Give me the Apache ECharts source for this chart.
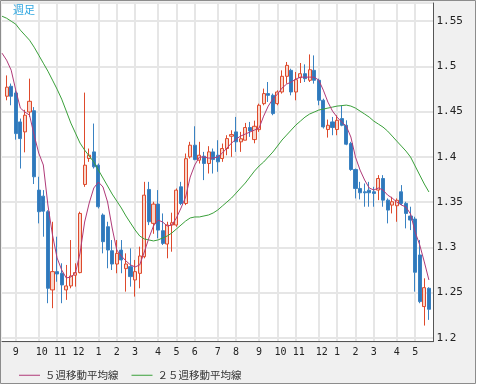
<!DOCTYPE html>
<html><head><meta charset="utf-8">
<script src="https://cdn.jsdelivr.net/npm/echarts@6/dist/echarts.min.js"></script>
<style>html,body{margin:0;padding:0;background:#fff}#c{width:478px;height:386px}</style>
</head><body><div id="c"></div>
<script>
// Weekly candles (Monday dates)
const weeks = [
'2008-08-11','2008-08-18','2008-08-25','2008-09-01','2008-09-08','2008-09-15','2008-09-22','2008-09-29','2008-10-06','2008-10-13','2008-10-20','2008-10-27','2008-11-03','2008-11-10','2008-11-17','2008-11-24','2008-12-01','2008-12-08','2008-12-15','2008-12-22','2008-12-29',
'2009-01-05','2009-01-12','2009-01-19','2009-01-26','2009-02-02','2009-02-09','2009-02-16','2009-02-23','2009-03-02','2009-03-09','2009-03-16','2009-03-23','2009-03-30','2009-04-06','2009-04-13','2009-04-20','2009-04-27','2009-05-04','2009-05-11','2009-05-18','2009-05-25','2009-06-01','2009-06-08','2009-06-15','2009-06-22','2009-06-29','2009-07-06','2009-07-13','2009-07-20','2009-07-27','2009-08-03','2009-08-10','2009-08-17','2009-08-24','2009-08-31','2009-09-07','2009-09-14','2009-09-21','2009-09-28','2009-10-05','2009-10-12','2009-10-19','2009-10-26','2009-11-02','2009-11-09','2009-11-16','2009-11-23','2009-11-30','2009-12-07','2009-12-14','2009-12-21','2009-12-28',
'2010-01-04','2010-01-11','2010-01-18','2010-01-25','2010-02-01','2010-02-08','2010-02-15','2010-02-22','2010-03-01','2010-03-08','2010-03-15','2010-03-22','2010-03-29','2010-04-05','2010-04-12','2010-04-19','2010-04-26','2010-05-03','2010-05-10','2010-05-17','2010-05-24','2010-05-31'];

const opens = [null,1.467,1.478,1.4706,1.4386,1.4276,1.4496,1.451,1.3633,1.3566,1.3394,1.253,1.2732,1.2714,1.253,1.2574,1.2692,1.2721,1.3695,1.3982,1.4055,
1.3908,1.3357,1.3228,1.2963,1.2816,1.297,1.2765,1.2787,1.264,1.2713,1.2897,1.364,1.3265,1.3478,1.3184,1.3037,1.3247,1.3247,1.3669,1.3485,1.40,1.4129,1.3963,1.4007,1.3927,1.4055,1.4018,1.3982,1.4092,1.4228,1.4276,1.4166,1.4184,1.4324,1.4191,1.4301,1.4588,1.4699,1.468,1.4588,1.4717,1.489,1.4956,1.4717,1.4875,1.4919,1.4846,1.4956,1.4846,1.4625,1.4302,1.4386,
1.4302,1.4423,1.4349,1.4147,1.386,1.3651,1.3614,1.3632,1.3614,1.3633,1.3761,1.3522,1.3467,1.346,1.3614,1.3486,1.3346,1.3313,1.2916,1.2346,1.2548,null];
const closes = [null,1.477,1.467,1.4257,1.4202,1.446,1.4614,1.378,1.3394,1.340,1.2548,1.2732,1.2706,1.2585,1.2574,1.2684,1.2721,1.3375,1.3908,1.4019,1.389,
1.3449,1.3063,1.2971,1.2816,1.2934,1.2861,1.2816,1.2677,1.2732,1.2905,1.3577,1.3283,1.3478,1.3191,1.3044,1.3247,1.3272,1.3632,1.3485,1.398,1.4129,1.397,1.4018,1.3927,1.4055,1.397,1.3945,1.4092,1.4202,1.4246,1.4166,1.42,1.4324,1.4287,1.4338,1.457,1.4699,1.468,1.4478,1.4717,1.489,1.5011,1.4717,1.4853,1.4919,1.4864,1.4963,1.4846,1.4625,1.4331,1.4349,1.4324,
1.4404,1.4349,1.414,1.386,1.3651,1.3603,1.3603,1.3603,1.3596,1.3761,1.3522,1.3412,1.3504,1.352,1.3486,1.3375,1.3302,1.2725,1.2401,1.2555,1.2316,null];
const lows = [null,1.4625,1.457,1.419,1.3871,1.405,1.4441,1.370,1.3265,1.3118,1.2383,1.2328,1.262,1.2383,1.242,1.2548,1.2566,1.2714,1.3669,1.3945,1.3871,
1.343,1.2934,1.2769,1.275,1.2714,1.2714,1.2511,1.2566,1.2456,1.2548,1.2879,1.3246,1.315,1.31,1.3026,1.2879,1.2952,1.3228,1.3467,1.3467,1.3982,1.3963,1.3927,1.3743,1.3816,1.3816,1.3835,1.3945,1.4018,1.40,1.4055,1.4055,1.4184,1.4221,1.415,1.4276,1.457,1.4607,1.446,1.457,1.4699,1.4809,1.468,1.4625,1.4816,1.4827,1.4827,1.4809,1.457,1.4313,1.4213,1.4239,
1.4239,1.4338,1.4129,1.3846,1.3541,1.353,1.3449,1.3449,1.3449,1.3522,1.3449,1.3265,1.3375,1.3283,1.3467,1.321,1.3191,1.2511,1.2383,1.2136,1.2199,null];
const highs = [null,1.490,1.481,1.4735,1.4423,1.452,1.4864,1.455,1.378,1.3633,1.341,1.3283,1.3118,1.2824,1.2806,1.3081,1.2824,1.3394,1.471,1.4092,1.4368,
1.3927,1.3375,1.3283,1.3081,1.3081,1.3081,1.2934,1.2989,1.2861,1.3008,1.3724,1.3724,1.3504,1.3633,1.3375,1.3283,1.3383,1.3651,1.3724,1.4037,1.4166,1.4338,1.4166,1.4055,1.4118,1.4092,1.4184,1.4147,1.4239,1.4294,1.4441,1.4276,1.4375,1.4386,1.44,1.4588,1.4754,1.4827,1.4699,1.4735,1.4956,1.5048,1.4974,1.4938,1.5037,1.5022,1.5132,1.5121,1.4864,1.4643,1.4412,1.4441,
1.446,1.457,1.4404,1.4166,1.3871,1.3724,1.3706,1.3724,1.3669,1.3798,1.3798,1.3541,1.3559,1.3541,1.3688,1.3504,1.3449,1.3338,1.3081,1.2658,1.2559,null];

const ma5 = [1.5146,1.5069,1.4958,1.4737,1.4539,1.4495,1.4461,1.4241,1.4042,1.391,1.3468,1.3137,1.2883,1.2751,1.2662,1.2673,1.2717,1.2938,1.328,1.349,1.3656,
1.3722,1.3667,1.3501,1.3214,1.2971,1.2905,1.285,1.2806,1.2784,1.2806,1.2949,1.3104,1.3236,1.3302,1.328,1.3236,1.3247,1.3325,1.3435,1.3556,1.3777,1.391,1.3998,1.3998,1.3987,1.3987,1.3998,1.4042,1.4097,1.4152,1.4197,1.423,1.4252,1.4274,1.4296,1.4318,1.445,1.4561,1.4638,1.4693,1.476,1.4804,1.4826,1.4859,1.4881,1.4881,1.4881,1.4881,1.4848,1.4737,1.4605,1.4506,
1.4439,1.4384,1.434,1.4219,1.3998,1.3854,1.3744,1.3656,1.3634,1.3656,1.3634,1.3578,1.3545,1.3501,1.3468,1.3446,1.3369,1.317,1.3027,1.2839,1.264,null];
const ma25 = [1.5554,1.5532,1.5499,1.5466,1.540,1.5345,1.5289,1.5212,1.5124,1.5035,1.4947,1.4848,1.4748,1.4638,1.4506,1.4373,1.4263,1.4152,1.4075,1.4009,1.3943,
1.3854,1.3766,1.3678,1.3589,1.3512,1.3435,1.3347,1.3269,1.3192,1.3126,1.3093,1.3082,1.3071,1.3082,1.3104,1.3126,1.3159,1.3203,1.3247,1.3291,1.3325,1.3336,1.3336,1.3347,1.3358,1.338,1.3413,1.3457,1.3501,1.3545,1.36,1.3656,1.3711,1.3777,1.3843,1.3899,1.3943,1.3998,1.4053,1.4119,1.4186,1.4241,1.4296,1.4351,1.4395,1.4439,1.4473,1.4495,1.4517,1.4528,1.4539,1.455,
1.4561,1.4566,1.4572,1.4561,1.4539,1.4506,1.4473,1.4439,1.4395,1.4362,1.4329,1.4285,1.423,1.4174,1.4119,1.4064,1.3998,1.3899,1.3799,1.37,1.3612,null];

const legendNames = ['５週移動平均線','２５週移動平均線'];
const isMonthStart = weeks.map((d,i)=> i>0 && d.slice(5,7)!==weeks[i-1].slice(5,7));
const candles = weeks.map((d,i)=> opens[i]==null ? '-' : [opens[i],closes[i],lows[i],highs[i]]);
const nz = a => a.map(v => v==null ? '-' : v);

const chart = echarts.init(document.getElementById('c'), null, {renderer:'canvas'});
chart.setOption({
  animation:false,
  backgroundColor:'#ffffff',
  graphic:[
    {type:'rect', z:-20, silent:true, shape:{x:0.5,y:0.5,width:475,height:383}, style:{fill:'#f0f0f0', stroke:'#8c8c8c', lineWidth:1}},
    {type:'rect', z:-10, silent:true, shape:{x:2,y:3,width:431.5,height:338.5}, style:{fill:'#ffffff'}},
    {type:'text', z:50, left:13, top:4, style:{text:'週足', fill:'#2ea6e0', font:'11px "Noto Sans CJK JP"'}}
  ],
  grid:{left:2, right:44.5, top:3, bottom:44.5, show:false},
  legend:{left:14, top:365, itemWidth:21, itemHeight:1, icon:'rect', itemGap:13,
    textStyle:{fontFamily:'Noto Sans CJK JP', fontSize:10.5, color:'#333'}, data:legendNames},
  xAxis:{type:'category', data:weeks, boundaryGap:false,
    axisLine:{show:true, lineStyle:{color:'#555', width:1}},
    axisTick:{show:false},
    axisLabel:{interval:(i)=>isMonthStart[i], formatter:(v)=>String(Number(v.slice(5,7))),
      color:'#222', fontFamily:'DejaVu Sans Mono', fontSize:10, align:'left', padding:[0,0,0,-3], margin:6},
    splitLine:{show:true, interval:(i)=>isMonthStart[i], lineStyle:{color:'#e6e6e6', width:2}}
  },
  yAxis:{type:'value', position:'right', min:1.196, max:1.57, splitNumber:8,
    axisLine:{show:true, lineStyle:{color:'#555', width:1}},
    axisTick:{show:false},
    axisLabel:{showMinLabel:false, showMaxLabel:false, margin:3, color:'#222', fontFamily:'DejaVu Sans Mono', fontSize:11,
      formatter:(v)=>String(+(+v).toFixed(2))},
    splitLine:{show:true, lineStyle:{color:'#e6e6e6', width:2}}
  },
  series:[
    {type:'candlestick', data:candles, barWidth:3.6,
      itemStyle:{color:'#f9d6ca', color0:'#2f78bb', borderColor:'#de4a2c', borderColor0:'#3a82c2', borderWidth:1}},
    {type:'line', name:legendNames[1], data:nz(ma25), showSymbol:false, symbol:'none', color:'#3aa03a',
      lineStyle:{color:'#3aa03a', width:1}, itemStyle:{color:'#3aa03a'}},
    {type:'line', name:legendNames[0], data:nz(ma5), showSymbol:false, symbol:'none', color:'#b03a78',
      lineStyle:{color:'#b03a78', width:1}, itemStyle:{color:'#b03a78'}}
  ]
});
</script></body></html>
